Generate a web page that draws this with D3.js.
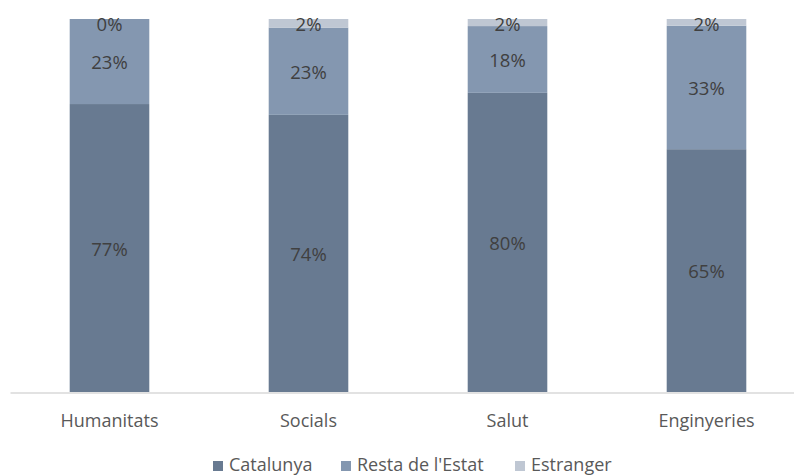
<!DOCTYPE html>
<html><head><meta charset="utf-8">
<script src="https://cdn.jsdelivr.net/npm/d3@7"></script>
<style>
html,body{margin:0;padding:0;background:#fff;}
svg{display:block;font-family:"Segoe UI","Open Sans","Noto Sans",sans-serif;}
</style></head>
<body><svg id="c" width="794" height="476"></svg>
<script>
const categories = ["Humanitats", "Socials", "Salut", "Enginyeries"];
const seriesNames = ["Catalunya", "Resta de l'Estat", "Estranger"];
const catalunya = [77.2, 74.3, 80.2, 65.1];
const restaEstat = [22.8, 23.4, 17.9, 33.1];
const estranger = [0.0, 2.3, 1.9, 1.8];
const colors = ["#687a91", "#8497b0", "#bfc7d3"];

const svg = d3.select("#c");
const data = categories.map((c, i) => ({cat: c, Catalunya: catalunya[i], "Resta de l'Estat": restaEstat[i], Estranger: estranger[i]}));
const stack = d3.stack().keys(seriesNames).offset(d3.stackOffsetExpand);
const series = stack(data);

const x = d3.scaleBand().domain(categories).range([10, 806]).paddingInner(0.6).paddingOuter(0.3);
const y = d3.scaleLinear().domain([0, 1]).range([392, 19]);

const g = svg.append("g");
series.forEach((s, si) => {
  g.selectAll(null).data(s).enter().append("rect")
    .attr("x", d => x(d.data.cat))
    .attr("width", x.bandwidth())
    .attr("y", d => y(d[1]))
    .attr("height", d => y(d[0]) - y(d[1]))
    .attr("fill", colors[si]);
});
series.forEach((s, si) => {
  g.selectAll(null).data(s).enter().append("text")
    .attr("x", d => x(d.data.cat) + x.bandwidth() / 2)
    .attr("y", d => si === 2 ? y(d[1]) + 4 : (y(d[0]) + y(d[1])) / 2)
    .attr("text-anchor", "middle")
    .attr("dominant-baseline", "central")
    .attr("font-size", 18.5)
    .attr("fill", "#404040")
    .text(d => Math.round((d[1] - d[0]) * 100) + "%");
});

// axis
const axis = d3.axisBottom(x).tickSize(0).tickPadding(22);
const ag = svg.append("g").attr("transform", "translate(0,392.5)").call(axis)
  .attr("font-family", null).attr("font-size", null);
ag.select(".domain").attr("stroke", "#d9d9d9").attr("stroke-width", 1.5);
ag.selectAll("text").attr("font-size", 18).attr("fill", "#595959");

// legend
const legendX = [213, 341, 515];
const lg = svg.append("g");
seriesNames.forEach((n, i) => {
  lg.append("rect").attr("x", legendX[i]).attr("y", 461).attr("width", 10).attr("height", 10).attr("fill", colors[i]);
  lg.append("text").attr("x", legendX[i] + 16).attr("y", 471)
    .attr("font-size", 18).attr("fill", "#595959").text(n);
});
</script></body></html>
